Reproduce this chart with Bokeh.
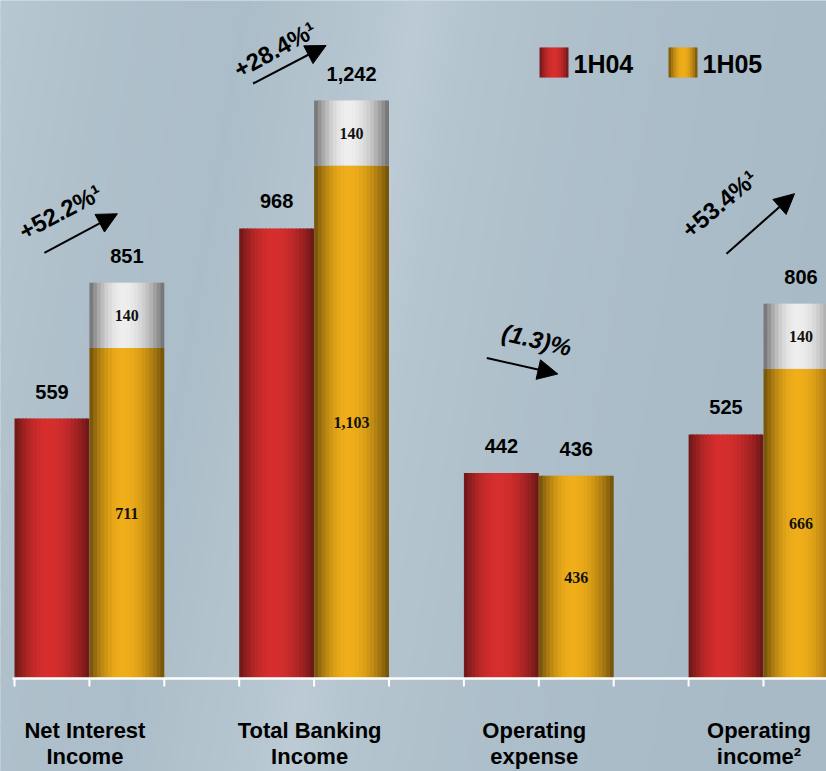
import numpy as np
from bokeh.plotting import figure
from bokeh.models import Range1d, Arrow, NormalHead, ColumnDataSource
from bokeh.core.properties import value
from bokeh.embed import file_html
from bokeh.resources import INLINE

# ---------------- data ----------------
cat_line1 = ["Net Interest", "Total Banking", "Operating", "Operating"]
cat_line2 = ["Income", "Income", "expense", "income\u00b2"]
series_names = ["1H04", "1H05"]
h104 = [559, 968, 442, 525]
h105_base = [711, 1103, 436, 666]
h105_extra = [140, 140, 0, 140]
h105_total_labels = ["851", "1,242", "436", "806"]
h105_base_labels = ["711", "1,103", "436", "666"]
h105_extra_labels = ["140", "140", "", "140"]
h104_labels = ["559", "968", "442", "525"]
changes = ["+52.2%\u00b9", "+28.4%\u00b9", "(1.3)%", "+53.4%\u00b9"]

# ---------------- geometry (pixel calibration) ----------------
W, H = 826, 771
PX_X0, UNIT = 14.0, 74.9          # px of x=0, px per bar unit
PX_BASE, PXPV = 678.0, 0.465       # px of y=0, px per value unit

def px2x(px):
    return (px - PX_X0) / UNIT

def px2y(py):
    return (PX_BASE - py) / PXPV

DX = 1.0 / UNIT   # data units per px (x)
DY = 1.0 / PXPV   # data units per px (y)

p = figure(width=W, height=H, output_backend="svg", toolbar_location=None,
           x_range=Range1d(px2x(0), px2x(W)), y_range=Range1d(px2y(H), px2y(0)),
           min_border=0, outline_line_color=None,
           background_fill_color="#aabcc8", border_fill_color="#aabcc8")
p.axis.visible = False
p.grid.visible = False

# ---------------- background: soft diagonal gradient ----------------
def mix(c1, c2, s):
    return "#%02x%02x%02x" % tuple(int(round(a + (b - a) * s)) for a, b in zip(c1, c2))

BG_DARK, BG_LIGHT = (160, 180, 193), (198, 211, 219)
prof_a = [-150, 0, 120, 250, 360, 420, 470, 560, 700, 900, 1000]
prof_s = [0.75, 0.62, 0.38, 0.30, 0.55, 0.72, 0.55, 0.40, 0.28, 0.18, 0.18]
step = 8
bg_xs, bg_ys, bg_c = [], [], []
for a in range(-150, 980, step):
    s = float(np.interp(a + step / 2, prof_a, prof_s))
    bg_xs.append([px2x(a), px2x(a + step + 1), px2x(a + step + 1 - 130), px2x(a - 130)])
    bg_ys.append([px2y(0), px2y(0), px2y(H), px2y(H)])
    bg_c.append(mix(BG_DARK, BG_LIGHT, s))
p.patches(xs=bg_xs, ys=bg_ys, fill_color=bg_c, line_color=None)

# ---------------- shaded bars (cylinder look via stripes) ----------------
def shade(dark, bright, t, peak=0.45, power=2.0):
    d = (t - peak) / (peak if t < peak else 1 - peak)
    s = max(0.0, 1 - abs(d) ** power)
    return mix(dark, bright, s)

RED = ((104, 22, 22), (214, 46, 46))
GOLD = ((108, 78, 10), (240, 174, 26))
GREY = ((108, 108, 108), (238, 238, 238))

def add_bars(lefts, bottoms, tops, palette, n=20):
    L, R, B, T, C = [], [], [], [], []
    for x0, b, t in zip(lefts, bottoms, tops):
        if t <= b:
            continue
        for k in range(n):
            tt = (k + 0.5) / n
            L.append(x0 + k / n)
            R.append(x0 + (k + 1) / n + (0.02 if k < n - 1 else 0))
            B.append(b)
            T.append(t)
            C.append(shade(palette[0], palette[1], tt))
    src = ColumnDataSource(dict(left=L, right=R, bottom=B, top=T, color=C))
    p.quad(left="left", right="right", bottom="bottom", top="top",
           fill_color="color", line_color=None, source=src)

ng = len(h104)
red_left = [3 * i for i in range(ng)]
gold_left = [3 * i + 1 for i in range(ng)]
gold_top = [b + e for b, e in zip(h105_base, h105_extra)]

add_bars(red_left, [0] * ng, h104, RED)
add_bars(gold_left, [0] * ng, h105_base, GOLD)
add_bars(gold_left, h105_base, gold_top, GREY)

# ---------------- axis line & ticks ----------------
p.segment(x0=[px2x(12)], y0=[0], x1=[px2x(W)], y1=[0], line_color="white", line_width=2.5)
tick_x = list(range(3 * ng))
p.segment(x0=tick_x, y0=[0] * len(tick_x), x1=tick_x, y1=[-8 * DY] * len(tick_x),
          line_color="white", line_width=2)

# ---------------- value labels ----------------
SANS = value("Liberation Sans")
p.text(x=[x + 0.5 for x in red_left], y=[v + 27 * DY for v in h104], text=h104_labels,
       text_font=SANS, text_font_style="bold", text_font_size="20px",
       text_align="center", text_baseline="middle", text_color="black")
p.text(x=[x + 0.5 for x in gold_left], y=[v + 27 * DY for v in gold_top], text=h105_total_labels,
       text_font=SANS, text_font_style="bold", text_font_size="20px",
       text_align="center", text_baseline="middle", text_color="black")

SERIF = value("Liberation Serif")
p.text(x=[x + 0.5 for x in gold_left], y=[b / 2 for b in h105_base], text=h105_base_labels,
       text_font=SERIF, text_font_style="bold", text_font_size="16px",
       text_align="center", text_baseline="middle", text_color="#111111")
p.text(x=[x + 0.5 for x in gold_left], y=[b + e / 2 for b, e in zip(h105_base, h105_extra)],
       text=h105_extra_labels,
       text_font=SERIF, text_font_style="bold", text_font_size="16px",
       text_align="center", text_baseline="middle", text_color="#111111")

# ---------------- category labels ----------------
CAT = value("Liberation Sans")
centers = [3 * i + 1 - 0.06 for i in range(ng)]
p.text(x=centers, y=[px2y(730)] * ng, text=cat_line1, text_font=CAT,
       text_font_style="bold", text_font_size="22px", text_align="center",
       text_baseline="middle", text_color="black")
p.text(x=centers, y=[px2y(756)] * ng, text=cat_line2, text_font=CAT,
       text_font_style="bold", text_font_size="22px", text_align="center",
       text_baseline="middle", text_color="black")

# ---------------- change arrows & texts ----------------
# offsets (px) relative to anchor = (boundary between bars, top of the higher bar)
arrow_tail = [(-45, 30), (-61, 17), (-52, 115), (-37, 50)]
arrow_tip = [(28, 69), (12, 55), (19, 99), (31, 110)]
txt_off = [(-29, 71), (-39, 51), (-2, 133), (-44, 100)]
txt_angle = [28, 29, -13, 40]
txt_style = ["bold", "bold", "bold italic", "bold"]

for i in range(ng):
    ax = 3 * i + 1
    ay = max(h104[i], gold_top[i])
    p.add_layout(Arrow(end=NormalHead(size=20, fill_color="black", line_color="black"),
                       x_start=ax + arrow_tail[i][0] * DX, y_start=ay + arrow_tail[i][1] * DY,
                       x_end=ax + arrow_tip[i][0] * DX, y_end=ay + arrow_tip[i][1] * DY,
                       line_color="black", line_width=2))
    p.text(x=[ax + txt_off[i][0] * DX], y=[ay + txt_off[i][1] * DY], text=[changes[i]],
           angle=np.deg2rad(txt_angle[i]), text_font=SANS, text_font_style=txt_style[i],
           text_font_size="24px", text_align="center", text_baseline="middle",
           text_color="black")

# ---------------- legend (manual, shaded swatches) ----------------
def add_swatch(px_l, px_r, py_t, py_b, palette, n=12):
    L, R, B, T, C = [], [], [], [], []
    w = (px_r - px_l) / n
    for k in range(n):
        L.append(px2x(px_l + k * w))
        R.append(px2x(px_l + (k + 1) * w + (0.8 if k < n - 1 else 0)))
        B.append(px2y(py_b))
        T.append(px2y(py_t))
        C.append(shade(palette[0], palette[1], (k + 0.5) / n, peak=0.5))
    p.quad(left=L, right=R, bottom=B, top=T, fill_color=C, line_color=None)

add_swatch(539, 568, 47, 77, RED)
add_swatch(668, 697, 47, 77, GOLD)
p.text(x=[px2x(573), px2x(702)], y=[px2y(63)] * 2, text=series_names, text_font=SANS,
       text_font_style="bold", text_font_size="25px", text_align="left",
       text_baseline="middle", text_color="black")

open("out.html", "w").write(file_html(p, INLINE))
